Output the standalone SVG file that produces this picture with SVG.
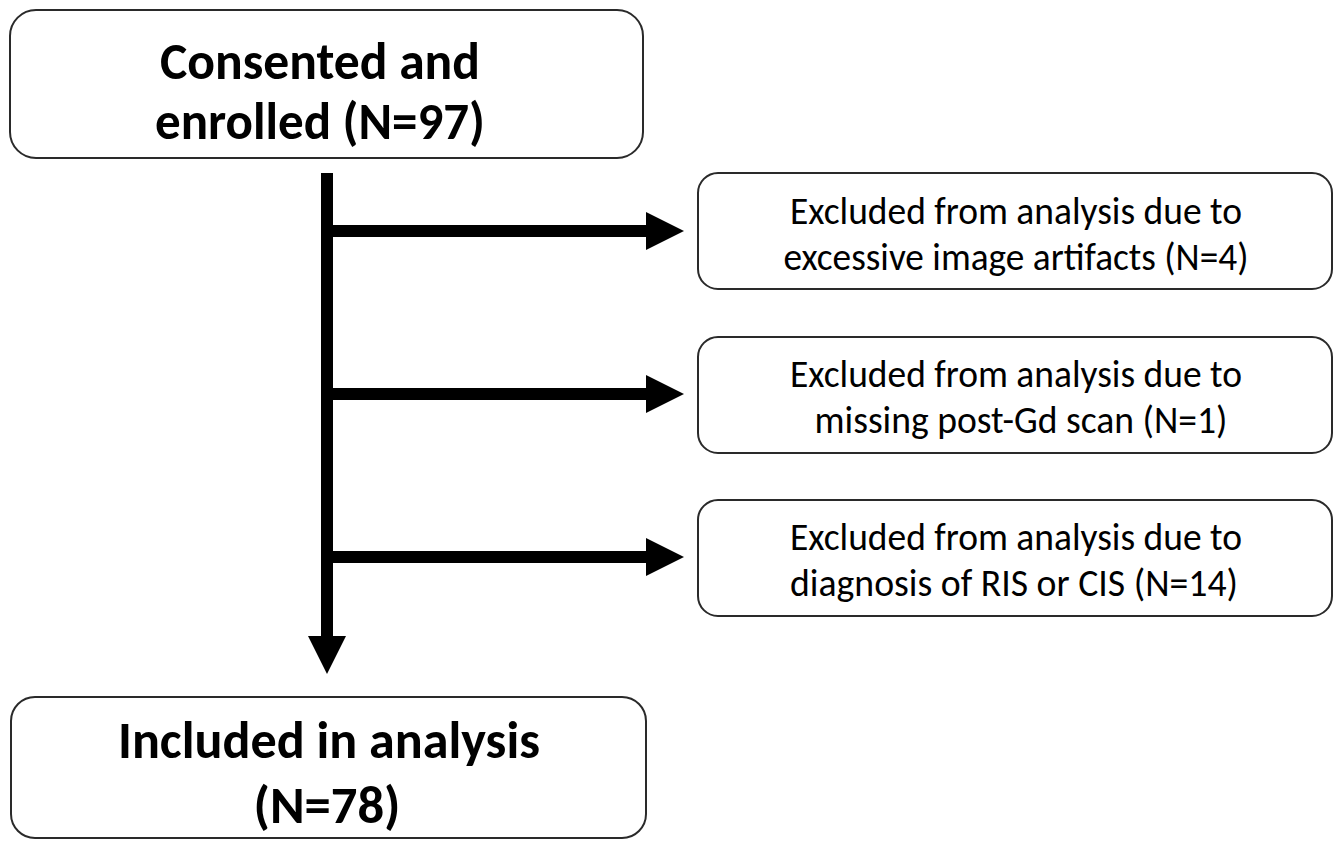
<svg xmlns="http://www.w3.org/2000/svg" width="1341" height="842" viewBox="0 0 1341 842">
<defs>
<style>
.box{fill:#fff;stroke:#2a2a2a;stroke-width:2}
.b{font-family:Carlito,Calibri,"Liberation Sans",sans-serif;font-weight:bold;font-size:53px;fill:#000;text-anchor:middle}
.r{font-family:Carlito,Calibri,"Liberation Sans",sans-serif;font-size:38px;fill:#000;text-anchor:middle}
.shaft{stroke:#000;stroke-width:12;fill:none}
</style>
<marker id="ah" markerUnits="userSpaceOnUse" markerWidth="40" markerHeight="40" refX="0" refY="19" orient="auto" viewBox="0 0 40 40">
<path d="M0,0 L38,19 L0,38 Z" fill="#000"/>
</marker>
</defs>
<rect width="1341" height="842" fill="#fff"/>
<g id="connectors">
<line class="shaft" x1="327" y1="173" x2="327" y2="636" marker-end="url(#ah)"/>
<line class="shaft" x1="327" y1="231" x2="646" y2="231" marker-end="url(#ah)"/>
<line class="shaft" x1="327" y1="394" x2="646" y2="394" marker-end="url(#ah)"/>
<line class="shaft" x1="327" y1="557" x2="646" y2="557" marker-end="url(#ah)"/>
</g>
<g id="enrolled">
<rect class="box" x="10" y="10" width="633" height="148" rx="26"/>
<text class="b" x="320" y="79" textLength="320" lengthAdjust="spacingAndGlyphs">Consented and</text>
<text class="b" x="320" y="139" textLength="330" lengthAdjust="spacingAndGlyphs">enrolled (N=97)</text>
</g>
<g id="excl1">
<rect class="box" x="698" y="173" width="634" height="116" rx="20"/>
<text class="r" x="1016" y="224" textLength="452" lengthAdjust="spacingAndGlyphs">Excluded from analysis due to</text>
<text class="r" x="1016" y="270" textLength="465" lengthAdjust="spacingAndGlyphs">excessive image artifacts (N=4)</text>
</g>
<g id="excl2">
<rect class="box" x="698" y="337" width="634" height="116" rx="20"/>
<text class="r" x="1016" y="387" textLength="452" lengthAdjust="spacingAndGlyphs">Excluded from analysis due to</text>
<text class="r" x="1021" y="433" textLength="413" lengthAdjust="spacingAndGlyphs">missing post-Gd scan (N=1)</text>
</g>
<g id="excl3">
<rect class="box" x="698" y="500" width="634" height="116" rx="20"/>
<text class="r" x="1016" y="550" textLength="452" lengthAdjust="spacingAndGlyphs">Excluded from analysis due to</text>
<text class="r" x="1014" y="596" textLength="448" lengthAdjust="spacingAndGlyphs">diagnosis of RIS or CIS (N=14)</text>
</g>
<g id="included">
<rect class="box" x="11" y="697" width="635" height="141" rx="24"/>
<text class="b" x="329" y="758" textLength="422" lengthAdjust="spacingAndGlyphs">Included in analysis</text>
<text class="b" x="327" y="823" textLength="147" lengthAdjust="spacingAndGlyphs">(N=78)</text>
</g>
</svg>
